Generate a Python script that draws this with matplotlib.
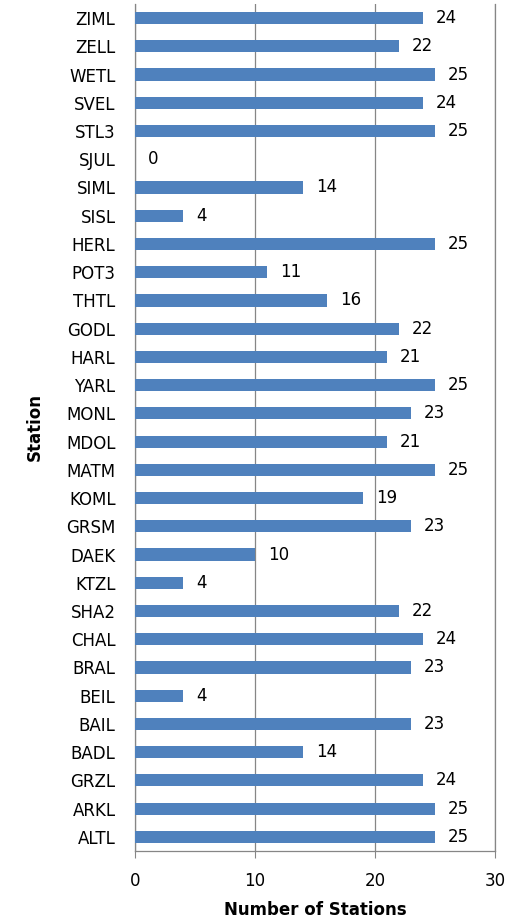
import matplotlib.pyplot as plt
import numpy as np

# Stations, bottom to top
stations = ["ALTL", "ARKL", "GRZL", "BADL", "BAIL", "BEIL", "BRAL", "CHAL",
            "SHA2", "KTZL", "DAEK", "GRSM", "KOML", "MATM", "MDOL", "MONL",
            "YARL", "HARL", "GODL", "THTL", "POT3", "HERL", "SISL", "SIML",
            "SJUL", "STL3", "SVEL", "WETL", "ZELL", "ZIML"]
counts = [25, 25, 24, 14, 23, 4, 23, 24,
          22, 4, 10, 23, 19, 25, 21, 23,
          25, 21, 22, 16, 11, 25, 4, 14,
          0, 25, 24, 25, 22, 24]
xticks = [0, 10, 20, 30]

plt.rcParams['font.family'] = ['DejaVu Sans']

fig = plt.figure(figsize=(5.32, 9.23), dpi=100)
ax = fig.add_axes([0.2538, 0.078, 0.6767, 0.9177])

y = np.arange(len(stations))
ax.barh(y, counts, height=0.43, color="#4F81BD", zorder=3)

# Value labels to the right of each bar
for yi, v in zip(y, counts):
    ax.annotate(f"{v}", (v, yi), xytext=(9.5, 0), textcoords="offset points",
                va="center", ha="left", fontsize=12, color="black")

ax.set_xlim(0, 30)
ax.set_ylim(-0.5, len(stations) - 0.5)
ax.set_xticks(xticks)
ax.set_yticks(y)
ax.set_yticklabels(stations, fontsize=12)
ax.tick_params(axis="x", labelsize=12, length=5, color="#868686", pad=10)
ax.tick_params(axis="y", length=0, pad=14)

ax.grid(axis="x", color="#868686", linewidth=0.9, zorder=0)
# gridline at the right edge, unclipped
ax.axvline(30, color="#868686", linewidth=0.9, zorder=0, clip_on=False)
for s in ["top", "right"]:
    ax.spines[s].set_visible(False)
for s in ["left", "bottom"]:
    ax.spines[s].set_color("#868686")
    ax.spines[s].set_linewidth(0.9)

ax.set_xlabel("Number of Stations", fontsize=12, fontweight="bold", labelpad=8)
ax.set_ylabel("Station", fontsize=12, fontweight="bold", labelpad=16)

fig.savefig("out.png", dpi=100)
